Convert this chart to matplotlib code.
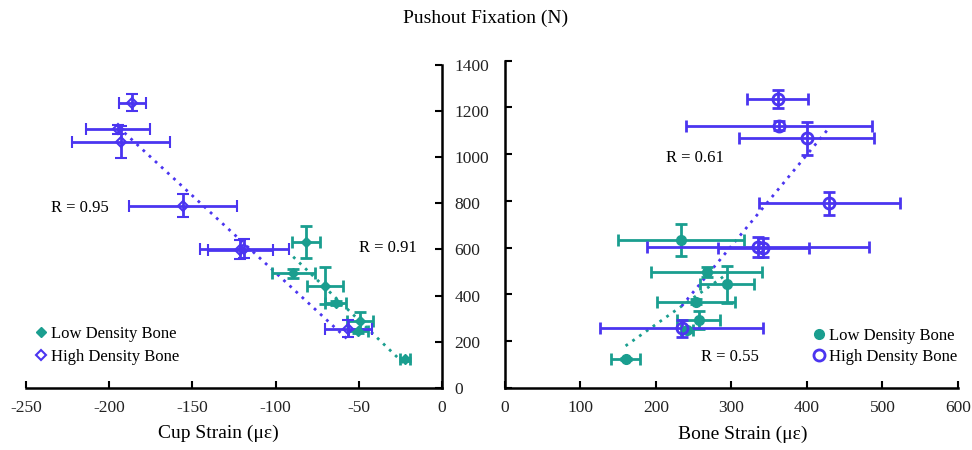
import matplotlib
matplotlib.use('Agg')
import matplotlib.pyplot as plt
import numpy as np

plt.rcParams['font.family'] = ['Liberation Serif', 'DejaVu Serif']
plt.rcParams['axes.unicode_minus'] = False

# pushout fixation (N) for each specimen
low_y = [631, 496, 443, 368, 289, 247, 123]
low_yerr = [69, 20, 80, 10, 38, 8, 6]
high_y = [1236, 1122, 1067, 789, 603, 599, 255]
high_yerr = [37, 20, 69, 50, 42, 40, 37]

# cup strain (negative, με)
low_cup = [-81.9, -89.4, -70.3, -63.9, -49.3, -50.7, -22.2]
low_cup_err = [8.5, 13.0, 10.8, 6.3, 7.7, 6.0, 3.0]
high_cup = [-186.1, -194.5, -193.1, -155.8, -118.7, -121.1, -56.3]
high_cup_err = [8.1, 19.2, 29.5, 32.5, 26.7, 19.5, 14.0]

# bone strain (με)
low_bone = [233.6, 267.0, 293.6, 253.0, 256.5, 241.5, 159.8]
low_bone_err = [83.4, 74.0, 35.8, 51.4, 28.7, 8.0, 19.2]
high_bone = [361.2, 363.0, 399.6, 429.6, 334.7, 342.0, 234.0]
high_bone_err = [40.8, 123.6, 89.8, 93.2, 147.0, 60.3, 107.7]

teal = '#1a9e8f'
blue = '#4b35f0'

fig = plt.figure(figsize=(9.72, 4.5), dpi=100)
axL = fig.add_axes([0.0267, 0.1384, 0.428, 0.717])
axR = fig.add_axes([0.5195, 0.1384, 0.466, 0.7267])


def trend(ax, x, y, color):
    k, b = np.polyfit(x, y, 1)
    xs = np.array([min(x), max(x)])
    ax.plot(xs, k * xs + b, color=color, lw=2, ls=(0, (1, 2)), zorder=1)


eb = dict(ls='none', elinewidth=2, capsize=4, capthick=2, zorder=3)

# left panel: cup strain
axL.errorbar(low_cup, low_y, xerr=low_cup_err, yerr=low_yerr, color=teal,
             marker='D', ms=5, mfc=teal, mec=teal, label='Low Density Bone', **eb)
axL.errorbar(high_cup, high_y, xerr=high_cup_err, yerr=high_yerr, color=blue,
             marker='D', ms=5, mfc='none', mec=blue, mew=1.5, label='High Density Bone', **eb)
trend(axL, low_cup, low_y, teal)
trend(axL, high_cup, high_y, blue)

axL.set_xlim(-250, 0)
axL.set_ylim(0, 1400)
axL.set_xticks(np.arange(-250, 1, 50))
axL.set_yticks(np.arange(0, 1401, 200))
axL.spines['top'].set_visible(False)
axL.spines['left'].set_visible(False)
axL.yaxis.tick_right()
axL.tick_params(axis='both', direction='in', length=5, width=1.5, labelsize=12.5, pad=9,
                labelcolor='#222222')
axL.text(-217.5, 780, 'R = 0.95', ha='center', va='center', fontsize=12)
axL.text(-32.5, 606, 'R = 0.91', ha='center', va='center', fontsize=12)
axL.set_xlabel('Cup Strain (με)', fontsize=14)
axL.xaxis.set_label_coords(0.463, -0.115)
hL, lL = axL.get_legend_handles_labels()
axL.legend([h[0] for h in hL], lL, loc='lower left', bbox_to_anchor=(0.0, 0.04), frameon=False,
           fontsize=12, handlelength=0.6, handletextpad=0.3, borderaxespad=0.2, labelspacing=0.4)

# right panel: bone strain
axR.errorbar(low_bone, low_y, xerr=low_bone_err, yerr=low_yerr, color=teal,
             marker='o', ms=7, mfc=teal, mec=teal, label='Low Density Bone', **eb)
axR.errorbar(high_bone, high_y, xerr=high_bone_err, yerr=high_yerr, color=blue,
             marker='o', ms=8, mfc='none', mec=blue, mew=2, label='High Density Bone', **eb)
trend(axR, low_bone, low_y, teal)
trend(axR, high_bone, high_y, blue)

axR.set_xlim(0, 600)
axR.set_ylim(0, 1400)
axR.set_xticks(np.arange(0, 601, 100))
axR.set_yticks(np.arange(0, 1401, 200))
axR.set_yticklabels([])
axR.spines['top'].set_visible(False)
axR.spines['right'].set_visible(False)
axR.tick_params(axis='both', direction='in', length=5, width=1.5, labelsize=12.5, pad=9,
                labelcolor='#222222')
axR.text(251.7, 984, 'R = 0.61', ha='center', va='center', fontsize=12)
axR.text(298, 131, 'R = 0.55', ha='center', va='center', fontsize=12)
axR.set_xlabel('Bone Strain (με)', fontsize=14)
axR.xaxis.set_label_coords(0.525, -0.115)
hR, lR = axR.get_legend_handles_labels()
axR.legend([h[0] for h in hR], lR, loc='lower right', bbox_to_anchor=(1.02, 0.04), frameon=False,
           fontsize=12, handlelength=0.6, handletextpad=0.3, borderaxespad=0.2, labelspacing=0.3)

for ax in (axL, axR):
    for s in ax.spines.values():
        s.set_linewidth(1.8)

fig.text(0.5, 0.96, 'Pushout Fixation (N)', ha='center', va='center', fontsize=14)

fig.savefig('out.png', dpi=100)
